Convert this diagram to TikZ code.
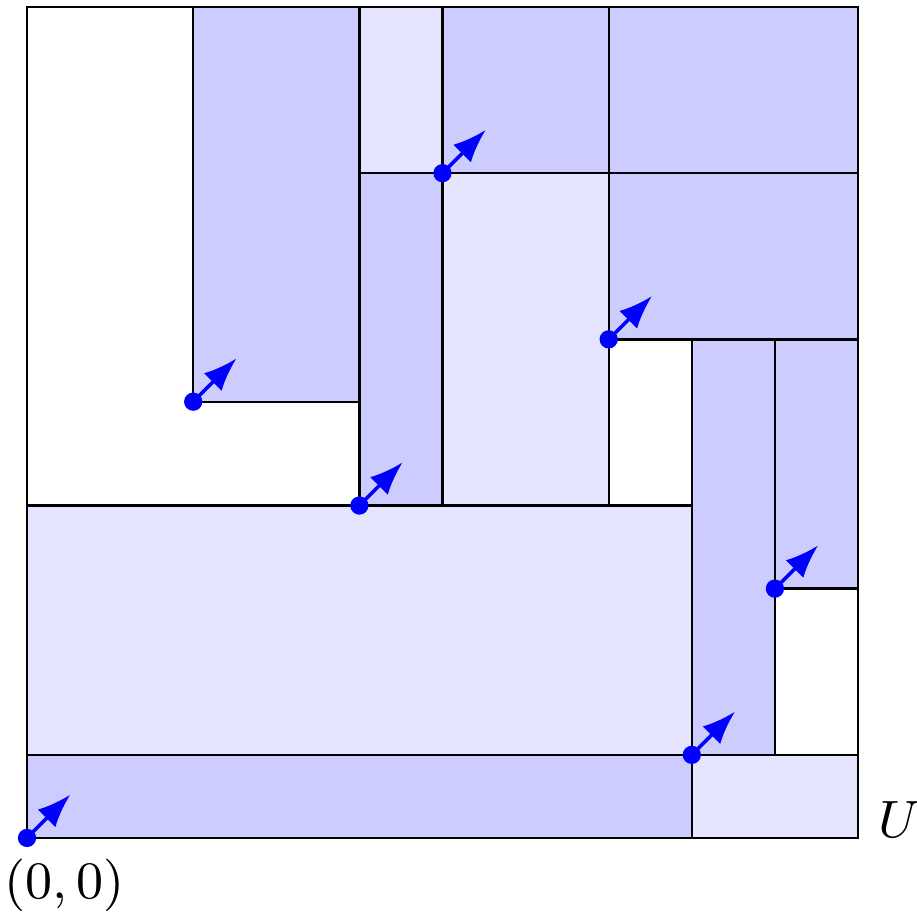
\documentclass[tikz,border=0pt]{standalone}
\usepackage{amsmath}
\usepackage{xcolor}
\usepackage{tikz}
\usetikzlibrary{arrows.meta,calc}

\begin{document}
\begin{tikzpicture}[
  x=0.5cm,y=0.5cm,
  dbox/.style={draw,fill=blue!20},
  lbox/.style={draw,fill=blue!10},
  arrow/.style={-{Latex},semithick,blue},
  pt/.style={fill=blue}
]
  \useasboundingbox (-0.325,-0.9025) rectangle (10.71,10.084);

  % Boxes
  \draw[dbox] (0,0) rectangle (8,1);
  \draw[lbox] (8,0) rectangle (10,1);
  \draw[lbox] (0,1) rectangle (8,4);
  \draw[dbox] (8,1) rectangle (9,6);
  \draw[dbox] (9,3) rectangle (10,6);
  \draw[dbox] (2,5.25) rectangle (4,10);
  \draw[dbox] (4,4) rectangle (5,8);
  \draw[lbox] (5,4) rectangle (7,8);
  \draw[lbox] (4,8) rectangle (5,10);
  \draw[dbox] (5,8) rectangle (7,10);
  \draw[dbox] (7,8) rectangle (10,10);
  \draw[dbox] (7,6) rectangle (10,8);

  % Outer square
  \draw (0,0) rectangle (10,10);

  % Points
  \coordinate (o) at (0,0);
  \coordinate (p1) at (8,1);
  \coordinate (p2) at (9,3);
  \coordinate (p3) at (4,4);
  \coordinate (p4) at (2,5.25);
  \coordinate (p5) at (7,6);
  \coordinate (p6) at (5,8);

  \foreach \p in {o,p1,p2,p3,p4,p5,p6} {
    \draw[arrow] (\p) -- ++(0.52,0.52);
    \fill[pt] (\p) circle (0.11);
  }

  % Labels
  \node[anchor=north,font=\small] (lo) at ($(o)+(0.45,0)$) {$(0,0)$};
  \node[anchor=base west,font=\small] (lu) at (10,0) {$U$};
\end{tikzpicture}
\end{document}
